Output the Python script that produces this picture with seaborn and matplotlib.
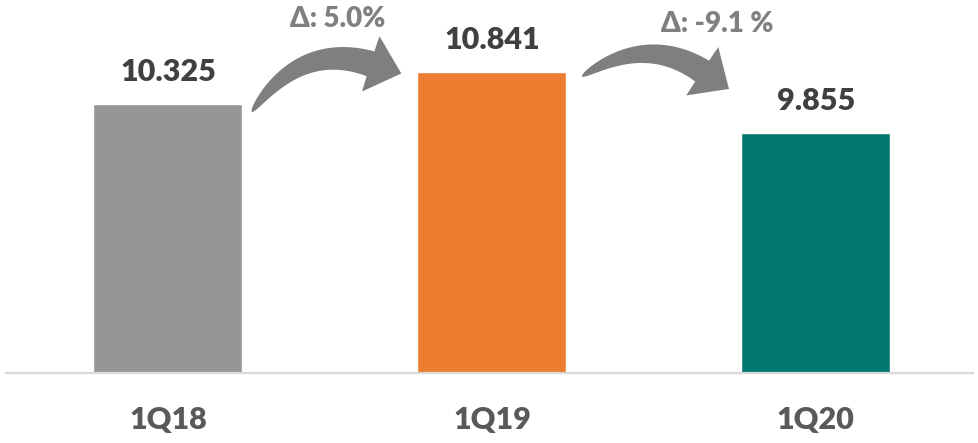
import numpy as np
import matplotlib
matplotlib.use("Agg")
import matplotlib.pyplot as plt
from matplotlib.patches import Polygon
import seaborn as sns

# Quarterly values (thousands) and styling per quarter
categories = ["1Q18", "1Q19", "1Q20"]
values = [10.325, 10.841, 9.855]
bar_colors = ["#969696", "#ed7d31", "#007871"]
change_labels = ["Δ: 5.0%", "Δ: -9.1 %"]

sns.set_style("white")
plt.rcParams["font.family"] = ["Lato", "DejaVu Sans"]

fig = plt.figure(figsize=(9.79, 4.43), dpi=100)
ax = fig.add_axes([6 / 979, 70 / 443, 967 / 979, 373 / 443])

sns.barplot(x=categories, y=values, hue=categories, palette=bar_colors,
            legend=False, width=0.46, saturation=1, ax=ax)

ax.set_xlim(-0.5, 2.485)
ax.set_ylim(6, 12)
ax.set_yticks([])
ax.set_xlabel("")
ax.set_ylabel("")
for side in ["left", "right", "top"]:
    ax.spines[side].set_visible(False)
ax.spines["bottom"].set_color("#d9d9d9")
ax.spines["bottom"].set_linewidth(1.6)
ax.tick_params(axis="x", length=0, pad=24, labelsize=22, labelcolor="#595959")
for lbl in ax.get_xticklabels():
    lbl.set_fontweight("heavy")

# value labels above each bar
for i, v in enumerate(values):
    ax.annotate(f"{v:.3f}", xy=(i, v), xytext=(0, 16.5), textcoords="offset points",
                ha="center", va="baseline", fontsize=22, fontweight="heavy",
                color="#404040")


def curved_arrow(start, end, rad, tail_w, head_w, head_len, color):
    """Tapered curved arrow (point at the tail) from start to end in data coords."""
    p0 = ax.transData.transform(start)
    p2 = ax.transData.transform(end)
    mid = (p0 + p2) / 2
    d = p2 - p0
    c = mid + rad * np.array([d[1], -d[0]])
    t = np.linspace(0, 1, 600)[:, None]
    pts = (1 - t) ** 2 * p0 + 2 * (1 - t) * t * c + t ** 2 * p2
    seg = np.hypot(*np.diff(pts, axis=0).T)
    s = np.concatenate([[0], np.cumsum(seg)])
    sb = s[-1] - head_len
    tang = np.gradient(pts, axis=0)
    tang /= np.linalg.norm(tang, axis=1)[:, None]
    norm = np.column_stack([-tang[:, 1], tang[:, 0]])
    keep = s <= sb
    w = tail_w / 2 * (s[keep] / sb) ** 0.5
    left = pts[keep] + norm[keep] * w[:, None]
    right = pts[keep] - norm[keep] * w[:, None]
    k = np.argmax(~keep)
    bc, nb, tb = pts[k], norm[k], tang[k]
    tip = bc + tb * head_len
    poly = np.vstack([left, bc + nb * head_w / 2, tip, bc - nb * head_w / 2, right[::-1]])
    poly = fig.transFigure.inverted().transform(poly)
    fig.patches.append(Polygon(poly, closed=True, transform=fig.transFigure,
                               facecolor=color, edgecolor="none"))


fig.canvas.draw()
curved_arrow((0.259, 10.20), (0.716, 10.77), -0.45, 26, 58, 32, "#7f7f7f")
curved_arrow((1.278, 10.77), (1.725, 10.525), -0.41, 25, 58, 32, "#7f7f7f")

ax.text(0.525, 11.70, change_labels[0], ha="center", va="center", fontsize=20,
        fontweight="heavy", color="#808080")
ax.text(1.694, 11.61, change_labels[1], ha="center", va="center", fontsize=20,
        fontweight="heavy", color="#808080")

fig.savefig("out.png", dpi=100)
